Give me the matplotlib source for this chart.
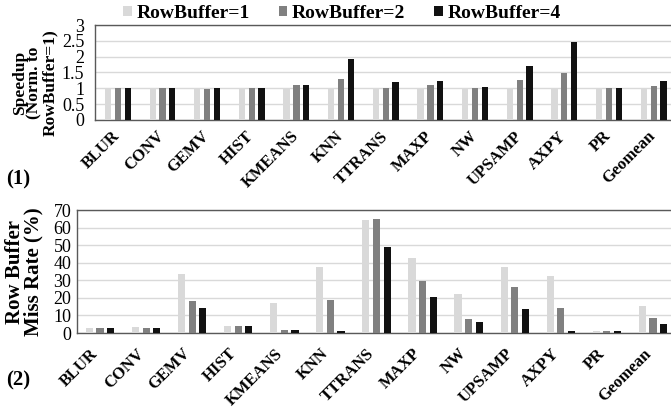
#!/usr/bin/env python3
import numpy as np
import matplotlib
matplotlib.use("Agg")
import matplotlib.pyplot as plt
from matplotlib.transforms import ScaledTranslation

plt.rcParams['font.family'] = ['Liberation Serif', 'DejaVu Serif']

benchmarks = ['BLUR', 'CONV', 'GEMV', 'HIST', 'KMEANS', 'KNN', 'TTRANS',
              'MAXP', 'NW', 'UPSAMP', 'AXPY', 'PR', 'Geomean']
series = ['RowBuffer=1', 'RowBuffer=2', 'RowBuffer=4']
colors = ['#d9d9d9', '#808080', '#111111']

# (1) speedup normalized to RowBuffer=1
speedup_rb1 = [1.0, 1.0, 1.0, 1.0, 1.0, 1.0, 1.0, 1.0, 1.0, 1.0, 1.0, 1.0, 1.0]
speedup_rb2 = [1.0, 1.0, 0.97, 1.0, 1.12, 1.30, 1.0, 1.12, 1.0, 1.27, 1.49, 1.0, 1.08]
speedup_rb4 = [1.0, 1.0, 1.0, 1.0, 1.12, 1.92, 1.21, 1.22, 1.03, 1.70, 2.46, 1.0, 1.24]

# (2) row buffer miss rate (%)
miss_rb1 = [2.6, 3.5, 33.3, 4.0, 17.1, 37.5, 64.3, 42.4, 22.1, 37.5, 32.3, 1.3, 15.4]
miss_rb2 = [2.6, 2.6, 18.1, 4.0, 1.9, 18.8, 64.9, 29.5, 8.0, 26.1, 14.3, 1.3, 8.7]
miss_rb4 = [2.6, 2.6, 14.3, 4.2, 1.9, 1.3, 49.1, 20.4, 6.5, 13.7, 1.3, 1.3, 5.3]

W, H = 671, 411
fig = plt.figure(figsize=(W / 100, H / 100), dpi=100)

def px_axes(left, top, right, bottom):
    return fig.add_axes([left / W, 1 - bottom / H, (right - left) / W, (bottom - top) / H])

def draw_panel(ax, data, ymax, ystep, bw, off, ypad, xpad, dx):
    x = np.arange(len(benchmarks))
    for i, (vals, c) in enumerate(zip(data, colors)):
        ax.bar(x + (i - 1) * off, vals, bw, color=c, label=series[i], zorder=3)
    ax.set_xlim(-0.5, len(benchmarks) - 0.5)
    ax.set_ylim(0, ymax)
    yt = np.arange(0, ymax + ystep / 2, ystep)
    ax.set_yticks(yt)
    ax.set_yticklabels(['%g' % v for v in yt], fontsize=13)
    ax.yaxis.grid(True, color='#d9d9d9', lw=1, zorder=0)
    ax.set_xticks(x)
    ax.set_xticklabels(benchmarks, rotation=45, ha='right', rotation_mode='anchor',
                       fontsize=12, fontweight='bold')
    ax.tick_params(axis='y', length=0, pad=ypad)
    ax.tick_params(axis='x', length=0, pad=xpad)
    shift = ScaledTranslation(dx / 100, 0, fig.dpi_scale_trans)
    for lab in ax.get_xticklabels():
        lab.set_transform(lab.get_transform() + shift)
    for s in ax.spines.values():
        s.set_color('#595959')
        s.set_linewidth(1)

ax1 = px_axes(95.5, 25, 676, 120)
draw_panel(ax1, [speedup_rb1, speedup_rb2, speedup_rb4], 3, 0.5, 0.14, 0.22, 8, 6, -6)
ax1.set_ylabel('Speedup\n(Norm. to\nRowBuffer=1)', fontsize=12.5, fontweight='bold',
               linespacing=0.93)
ax1.yaxis.set_label_coords((58 - 95.5) / 580.5, (120 - 83) / 95)

ax2 = px_axes(77, 210, 676, 333)
draw_panel(ax2, [miss_rb1, miss_rb2, miss_rb4], 70, 10, 0.155, 0.23, 4, 9, -10)
ax2.set_ylabel('Row Buffer\nMiss Rate (%)', fontsize=15, fontweight='bold',
               linespacing=0.93, labelpad=7)

handles, labels = ax1.get_legend_handles_labels()
fig.legend(handles, labels, loc='center', bbox_to_anchor=(342 / W, 1 - 13 / H), ncol=3,
           frameon=False, prop={'weight': 'bold', 'size': 14},
           handlelength=0.42, handleheight=0.42, handletextpad=0.25, columnspacing=1.5)

fig.text(6 / W, 1 - 179 / H, '(1)', fontsize=15, fontweight='bold', va='center')
fig.text(6 / W, 1 - 380 / H, '(2)', fontsize=15, fontweight='bold', va='center')

fig.savefig('out.png', dpi=100)
